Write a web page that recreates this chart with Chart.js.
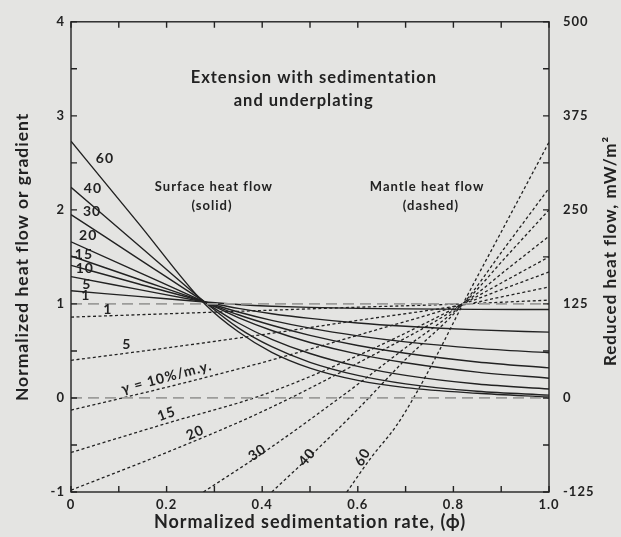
<!DOCTYPE html>
<html>
<head>
<meta charset="utf-8">
<script src="https://cdn.jsdelivr.net/npm/chart.js@4.4.0/dist/chart.umd.min.js"></script>
<style>
  html, body { margin: 0; padding: 0; background: #e4e4e2; }
  #wrap { width: 621px; height: 537px; }
</style>
</head>
<body>
<div id="wrap"><canvas id="myChart" width="621" height="537"></canvas></div>
<script>
// tick labels
const xTickLabels = ['0', '0.2', '0.4', '0.6', '0.8', '1.0'];
const yTickLabels = ['-1', '0', '1', '2', '3', '4'];
const y2TickLabels = ['-125', '0', '125', '250', '375', '500'];

// surface heat flow (solid), gamma = 1..60 %/m.y.
const surfacePhi = [0, 0.14, 0.28, 0.35, 0.42, 0.5, 0.6, 0.7, 0.85, 1.0];
const surface1  = [1.14, 1.08, 1.02, 0.994, 0.976, 0.963, 0.953, 0.947, 0.942, 0.94];
const surface5  = [1.29, 1.155, 1.02, 0.952, 0.896, 0.846, 0.797, 0.762, 0.724, 0.70];
const surface10 = [1.41, 1.215, 1.02, 0.914, 0.825, 0.742, 0.660, 0.596, 0.527, 0.48];
const surface15 = [1.51, 1.265, 1.02, 0.885, 0.773, 0.666, 0.558, 0.475, 0.383, 0.32];
const surface20 = [1.66, 1.34, 1.02, 0.854, 0.717, 0.590, 0.466, 0.374, 0.275, 0.21];
const surface30 = [1.95, 1.485, 1.02, 0.797, 0.624, 0.473, 0.336, 0.240, 0.148, 0.095];
const surface40 = [2.24, 1.63, 1.02, 0.746, 0.545, 0.379, 0.240, 0.150, 0.071, 0.03];
const surface60 = [2.73, 1.865, 1.0, 0.704, 0.486, 0.318, 0.187, 0.110, 0.050, 0.01];

// mantle heat flow (dashed)
const mantlePhi = [0, 0.2, 0.4, 0.6, 0.82, 0.91, 1.0];
const mantle1  = [0.86, 0.895, 0.93, 0.965, 1.0, 1.02, 1.04];
const mantle5  = [0.40, 0.532, 0.673, 0.825, 0.99, 1.085, 1.18];
const mantle10 = [-0.13, 0.114, 0.376, 0.667, 1.0, 1.17, 1.34];
const mantle15 = [-0.58, -0.27, 0.03, 0.45, 1.0, 1.25, 1.5];
const mantle20 = [-0.98, -0.58, -0.145, 0.37, 1.0, 1.36, 1.72];
const mantlePhi30 = [0.277, 0.4, 0.5, 0.6, 0.7, 0.82, 0.91, 1.0];
const mantle30 = [-1, -0.59, -0.23, 0.145, 0.535, 1.0, 1.5, 2.0];
const mantlePhi40 = [0.42, 0.5, 0.6, 0.7, 0.82, 0.91, 1.0];
const mantle40 = [-1, -0.62, -0.12, 0.41, 1.0, 1.615, 2.23];
const mantlePhi60 = [0.577, 0.63, 0.68, 0.72, 0.77, 0.82, 0.91, 1.0];
const mantle60 = [-1, -0.62, -0.3, 0.03, 0.5, 1.0, 1.86, 2.72];

// reference levels (gray long dashes)
const refLevels = [0, 1];

const INK = '#222222';
const FONT = 'Lato, "DejaVu Sans", sans-serif';

function pts(xs, ys) {
    return xs.map((x, i) => ({x: x, y: ys[i]}));
}

function curve(xs, ys, dashed) {
    return {
        data: pts(xs, ys),
        borderColor: INK,
        borderWidth: dashed ? 1.3 : 1.4,
        borderDash: dashed ? [3, 2.5] : [],
        pointRadius: 0,
        cubicInterpolationMode: 'monotone',
        fill: false
    };
}

const datasets = [];
refLevels.forEach(v => {
    datasets.push({
        data: [{x: 0, y: v}, {x: 1, y: v}],
        borderColor: '#9c9c9a',
        borderWidth: 1.8,
        borderDash: [11, 6],
        pointRadius: 0,
        fill: false
    });
});
[surface1, surface5, surface10, surface15, surface20, surface30, surface40, surface60]
    .forEach(s => datasets.push(curve(surfacePhi, s, false)));
[mantle1, mantle5, mantle10, mantle15, mantle20]
    .forEach(m => datasets.push(curve(mantlePhi, m, true)));
datasets.push(curve(mantlePhi30, mantle30, true));
datasets.push(curve(mantlePhi40, mantle40, true));
datasets.push(curve(mantlePhi60, mantle60, true));

// text placed in data units (phi, normalized value)
const notes = [
    {t: 'Extension with sedimentation', x: 0.508, y: 3.41, size: 16.5},
    {t: 'and underplating', x: 0.487, y: 3.16, size: 16.5},
    {t: 'Surface heat flow', x: 0.299, y: 2.24, size: 13},
    {t: '(solid)', x: 0.295, y: 2.04, size: 13},
    {t: 'Mantle heat flow', x: 0.745, y: 2.24, size: 13},
    {t: '(dashed)', x: 0.753, y: 2.04, size: 13},
    {t: '60', x: 0.071, y: 2.55, size: 14},
    {t: '40', x: 0.046, y: 2.23, size: 14},
    {t: '30', x: 0.044, y: 1.98, size: 14},
    {t: '20', x: 0.036, y: 1.73, size: 14},
    {t: '15', x: 0.027, y: 1.53, size: 14},
    {t: '10', x: 0.029, y: 1.38, size: 14},
    {t: '5', x: 0.033, y: 1.21, size: 14},
    {t: '1', x: 0.031, y: 1.09, size: 14},
    {t: '1', x: 0.077, y: 0.94, size: 14},
    {t: '5', x: 0.117, y: 0.57, size: 14},
    {t: 'γ = 10%/m.y.', x: 0.2, y: 0.22, size: 14, rot: -15},
    {t: '15', x: 0.2, y: -0.17, size: 14, rot: -20},
    {t: '20', x: 0.26, y: -0.37, size: 14, rot: -24},
    {t: '30', x: 0.39, y: -0.58, size: 14, rot: -35},
    {t: '40', x: 0.494, y: -0.63, size: 14, rot: -50},
    {t: '60', x: 0.61, y: -0.63, size: 14, rot: -60}
];

const paper = {
    id: 'paper',
    beforeDraw(chart) {
        const ctx = chart.ctx;
        ctx.save();
        ctx.fillStyle = '#e4e4e2';
        ctx.fillRect(0, 0, chart.width, chart.height);
        ctx.restore();
        // the original lettering is wide; open it up a little everywhere
        ctx.letterSpacing = '1px';
    }
};

const frame = {
    id: 'frame',
    afterDatasetsDraw(chart) {
        const {ctx, chartArea: a} = chart;
        const x = chart.scales.x, y = chart.scales.y;
        ctx.save();
        ctx.strokeStyle = INK;
        ctx.lineWidth = 1.4;
        ctx.strokeRect(a.left, a.top, a.right - a.left, a.bottom - a.top);
        ctx.beginPath();
        x.ticks.forEach(t => {
            const px = x.getPixelForValue(t.value);
            ctx.moveTo(px, a.bottom); ctx.lineTo(px, a.bottom - 6);
            ctx.moveTo(px, a.top); ctx.lineTo(px, a.top + 6);
        });
        y.ticks.forEach(t => {
            const py = y.getPixelForValue(t.value);
            ctx.moveTo(a.left, py); ctx.lineTo(a.left + 6, py);
            ctx.moveTo(a.right, py); ctx.lineTo(a.right - 6, py);
        });
        ctx.stroke();

        ctx.fillStyle = INK;
        ctx.textAlign = 'center';
        ctx.textBaseline = 'middle';
        notes.forEach(n => {
            ctx.save();
            ctx.translate(x.getPixelForValue(n.x), y.getPixelForValue(n.y));
            if (n.rot) ctx.rotate(n.rot * Math.PI / 180);
            ctx.font = 'bold ' + n.size + 'px ' + FONT;
            ctx.fillText(n.t, 0, 0);
            ctx.restore();
        });

        // right-hand axis title, read bottom to top
        ctx.save();
        ctx.translate(a.right + 62, 251);
        ctx.rotate(-Math.PI / 2);
        ctx.font = 'bold 17px ' + FONT;
        ctx.fillText('Reduced heat flow, mW/m²', 0, 0);
        ctx.restore();
        ctx.restore();
    }
};

const config = {
    type: 'line',
    data: {datasets: datasets},
    plugins: [paper, frame],
    options: {
        responsive: false,
        animation: false,
        layout: {padding: {top: 17, left: 0, right: 0, bottom: 0}},
        plugins: {legend: {display: false}, tooltip: {enabled: false}},
        scales: {
            x: {
                type: 'linear',
                position: 'bottom',
                min: 0, max: 1,
                grid: {display: false, drawTicks: false},
                border: {display: false},
                ticks: {
                    stepSize: 0.1,
                    padding: 5,
                    maxRotation: 0,
                    autoSkip: false,
                    color: INK,
                    font: {family: FONT, size: 13, weight: 'bold'},
                    callback: (v, i) => (i % 2 === 0 ? xTickLabels[i / 2] : '')
                },
                title: {
                    display: true,
                    text: 'Normalized sedimentation rate, (ϕ)',
                    color: INK,
                    font: {family: FONT, size: 18, weight: 'bold'},
                    padding: {top: 0, bottom: 4}
                },
                afterFit: s => { s.height = 45; }
            },
            y: {
                type: 'linear',
                position: 'left',
                min: -1, max: 4,
                grid: {display: false, drawTicks: false},
                border: {display: false},
                ticks: {
                    stepSize: 0.5,
                    padding: 6,
                    autoSkip: false,
                    color: INK,
                    font: {family: FONT, size: 13, weight: 'bold'},
                    callback: (v, i) => (i % 2 === 0 ? yTickLabels[i / 2] : '')
                },
                title: {
                    display: true,
                    text: 'Normalized heat flow or gradient',
                    color: INK,
                    font: {family: FONT, size: 17.5, weight: 'bold'},
                    padding: {top: 11.5, bottom: 0}
                },
                afterFit: s => { s.width = 71; }
            },
            y2: {
                type: 'linear',
                position: 'right',
                min: -125, max: 500,
                grid: {display: false, drawTicks: false},
                border: {display: false},
                ticks: {
                    stepSize: 62.5,
                    padding: 14,
                    autoSkip: false,
                    color: INK,
                    font: {family: FONT, size: 13, weight: 'bold'},
                    callback: (v, i) => (i % 2 === 0 ? y2TickLabels[i / 2] : '')
                },
                afterFit: s => { s.width = 72; }
            }
        }
    }
};

const myChart = new Chart(document.getElementById('myChart').getContext('2d'), config);
</script>
</body>
</html>
